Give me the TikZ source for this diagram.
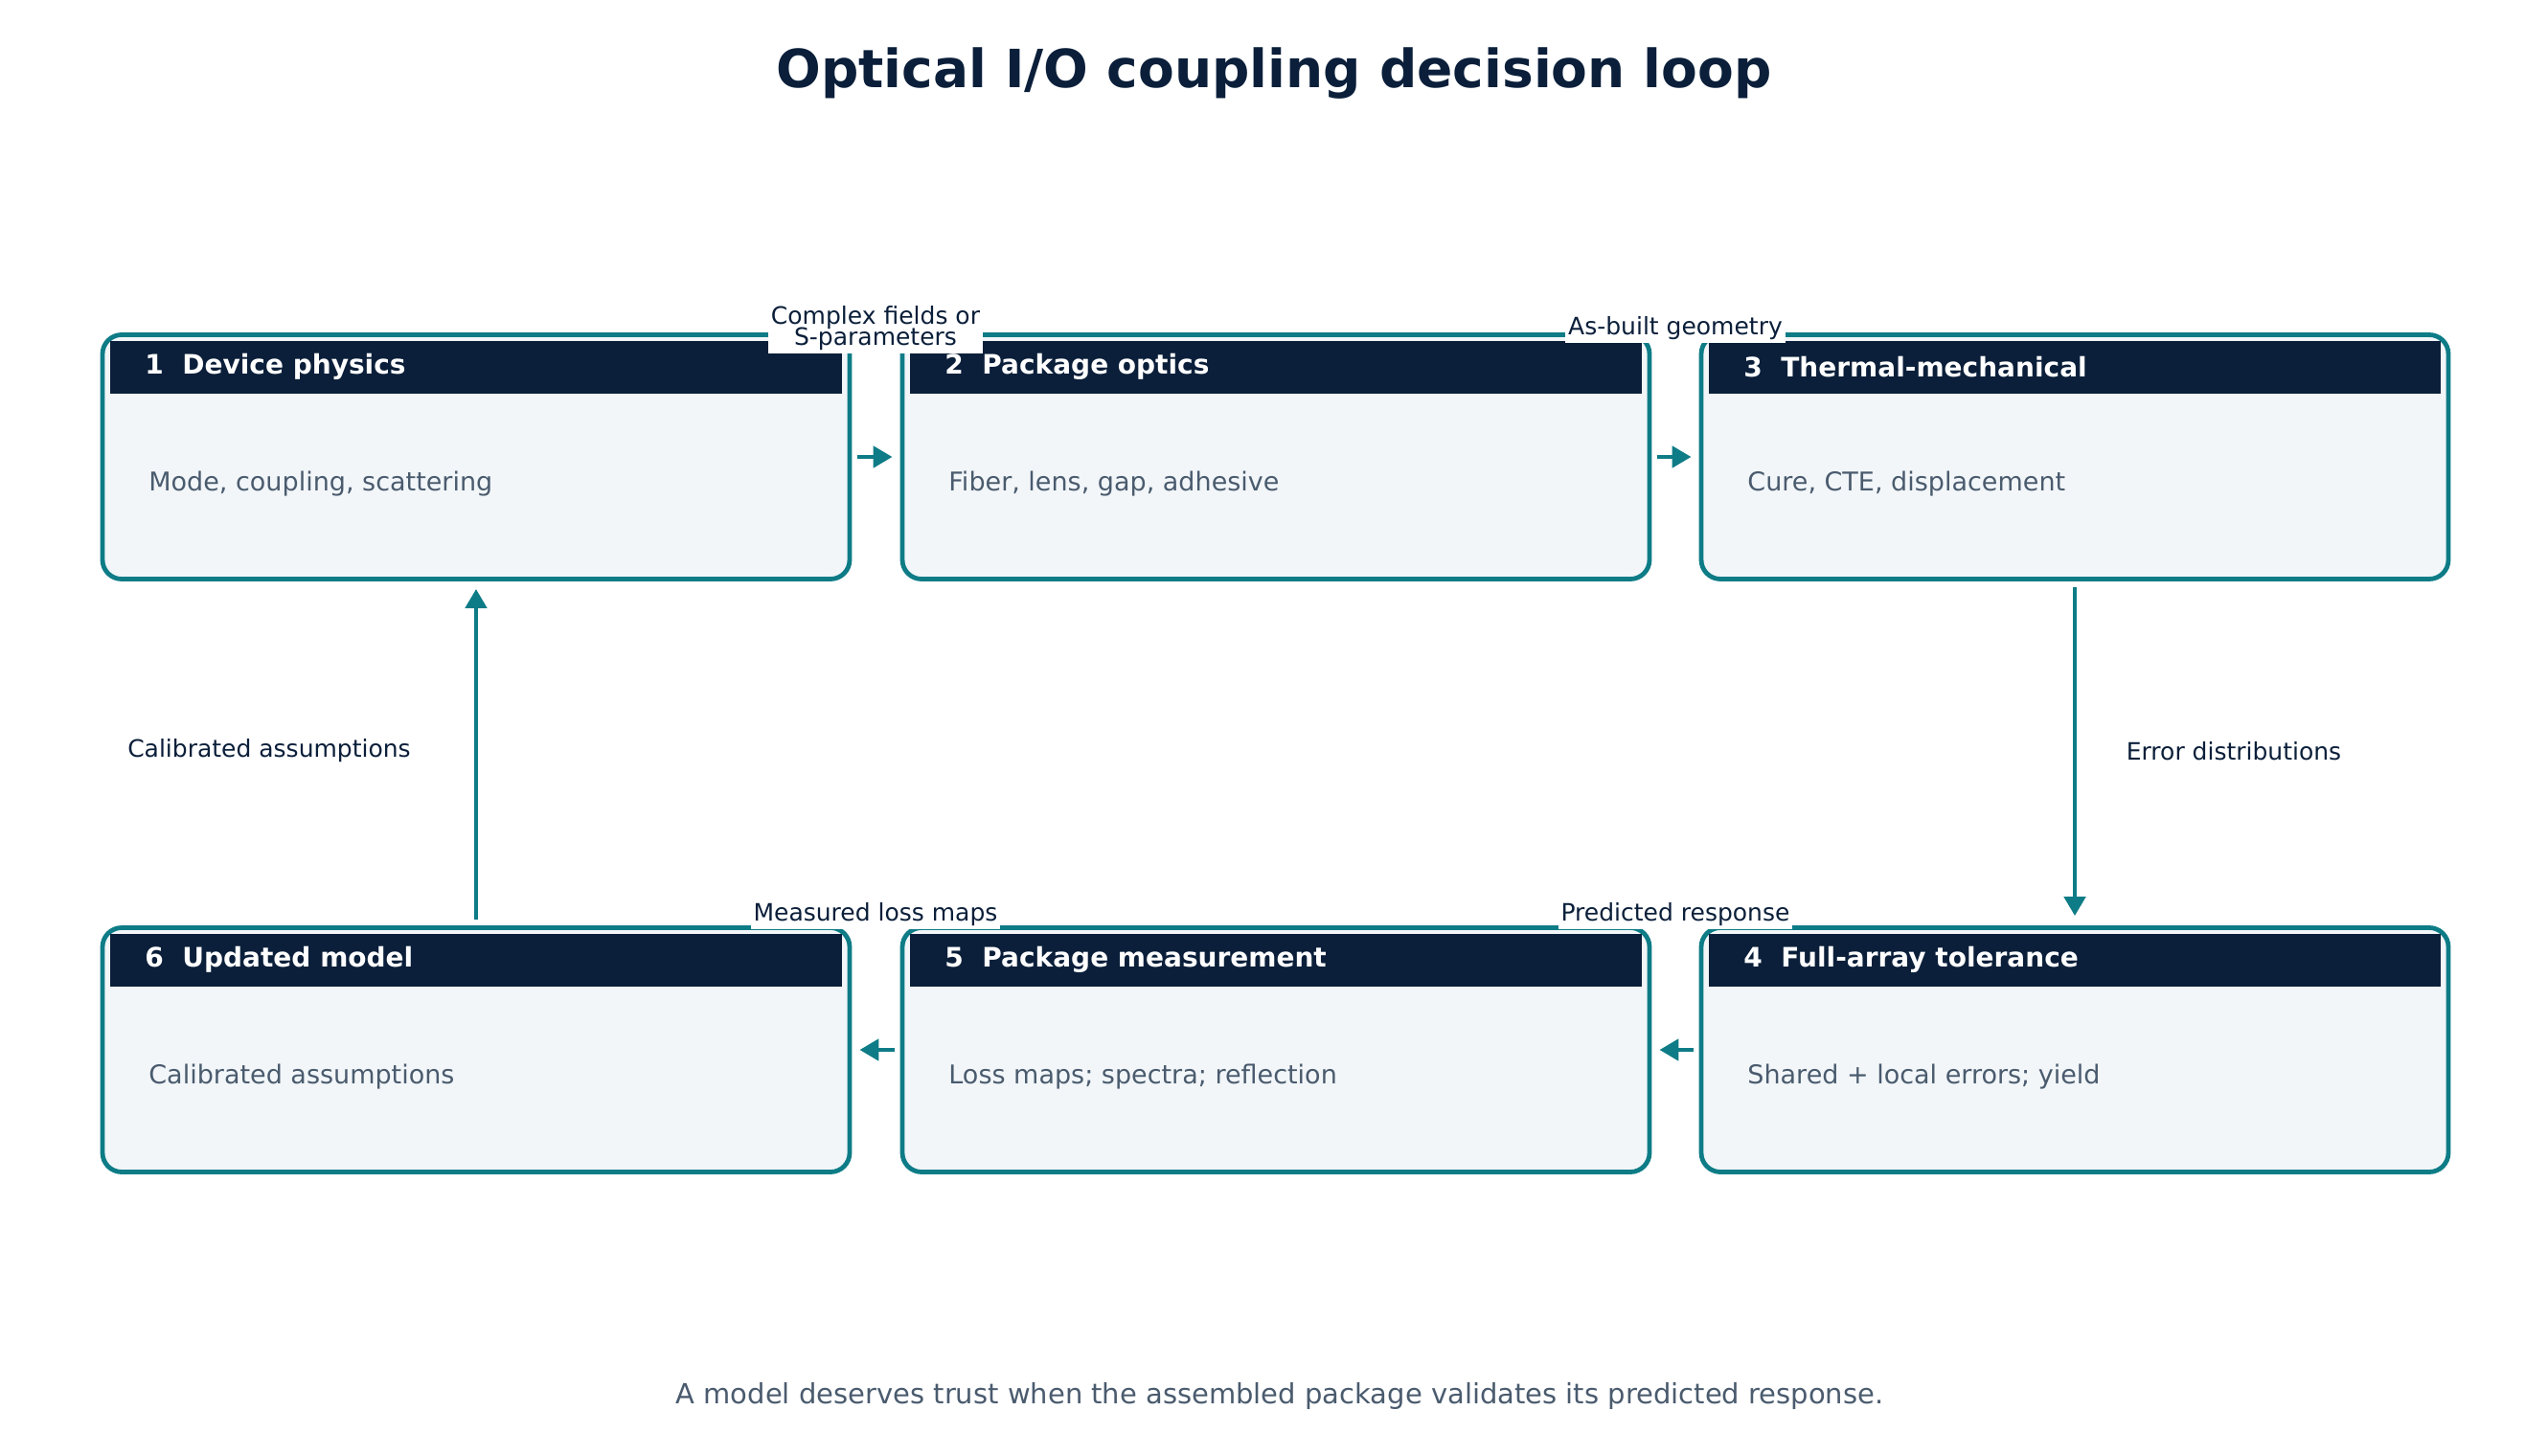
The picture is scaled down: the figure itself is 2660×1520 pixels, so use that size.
\documentclass[tikz,border=0pt]{standalone}
\usepackage{fontspec}
\setmainfont{DejaVu Sans}
\usetikzlibrary{arrows.meta}
\definecolor{navy}{HTML}{0B1F3A}
\definecolor{teal}{HTML}{0E7C86}
\definecolor{pale}{HTML}{F2F6F9}
\definecolor{gray}{HTML}{4A5B6E}
\begin{document}
\begin{tikzpicture}[x=0.5pt,y=-0.5pt,
 box/.style={draw=teal,line width=2.4pt,fill=pale,rounded corners=10pt,minimum width=390pt,minimum height=127.5pt,inner sep=0pt},
 hdr/.style={fill=navy,minimum width=382pt,minimum height=27.5pt,inner sep=0pt},
 htxt/.style={text=white,font=\fontsize{14}{16}\selectfont\bfseries,anchor=west,inner sep=0pt},
 btxt/.style={text=gray,font=\fontsize{13.5}{16}\selectfont,anchor=west,inner sep=0pt},
 lab/.style={text=navy,font=\fontsize{12.5}{13}\selectfont,fill=white,inner sep=1.5pt,align=center},
 arr/.style={draw=teal,line width=2.4pt,-{Triangle[length=10pt,width=11pt]}}]
\useasboundingbox (0,0) rectangle (2660,1520);
\node[text=navy,font=\fontsize{27.5}{30}\selectfont\bfseries] (title) at (1330,77) {Optical I/O coupling decision loop};
% boxes
\node[box] (b1) at (497,477) {};
\node[box] (b2) at (1332,477) {};
\node[box] (b3) at (2166,477) {};
\node[box] (b6) at (497,1096) {};
\node[box] (b5) at (1332,1096) {};
\node[box] (b4) at (2166,1096) {};
\foreach \b/\n/\t/\s in {b1/1/Device physics/{Mode, coupling, scattering},
 b2/2/Package optics/{Fiber, lens, gap, adhesive},
 b3/3/Thermal-mechanical/{Cure, CTE, displacement},
 b4/4/Full-array tolerance/{Shared + local errors; yield},
 b5/5/Package measurement/{Loss maps; spectra; reflection},
 b6/6/Updated model/{Calibrated assumptions}}{
 \node[hdr,anchor=north] (\b h) at ([yshift=-4pt]\b.north) {};
 \node[htxt] (\b t) at ([xshift=-173pt]\b h.center) {\n\ \ \t};
 \node[btxt] (\b s) at ([xshift=-171pt,yshift=-14pt]\b.center) {\s};
}
% arrows
\draw[arr] ([xshift=3pt]b1.east) -- ([xshift=-4pt]b2.west);
\draw[arr] ([xshift=3pt]b2.east) -- ([xshift=-4pt]b3.west);
\draw[arr] ([xshift=-3pt]b4.west) -- ([xshift=4pt]b5.east);
\draw[arr] ([xshift=-3pt]b5.west) -- ([xshift=4pt]b6.east);
\draw[arr] ([yshift=-3pt]b3.south) -- ([yshift=5pt]b4.north);
\draw[arr] ([yshift=3pt]b6.north) -- ([yshift=-4pt]b1.south);
% labels
\node[lab] (l1) at (914,343) {Complex fields or\\[-2pt]S-parameters};
\node[lab] (l2) at (1749,343) {As-built geometry};
\node[lab] (l3) at (914,955) {Measured loss maps};
\node[lab] (l4) at (1749,955) {Predicted response};
\node[lab] (l5) at (2332,784) {Error distributions};
\node[lab] (l6) at (281,784) {Calibrated assumptions};
\node[text=gray,font=\fontsize{14.5}{16}\selectfont] (foot) at (1336,1457) {A model deserves trust when the assembled package validates its predicted response.};
\end{tikzpicture}
\end{document}
